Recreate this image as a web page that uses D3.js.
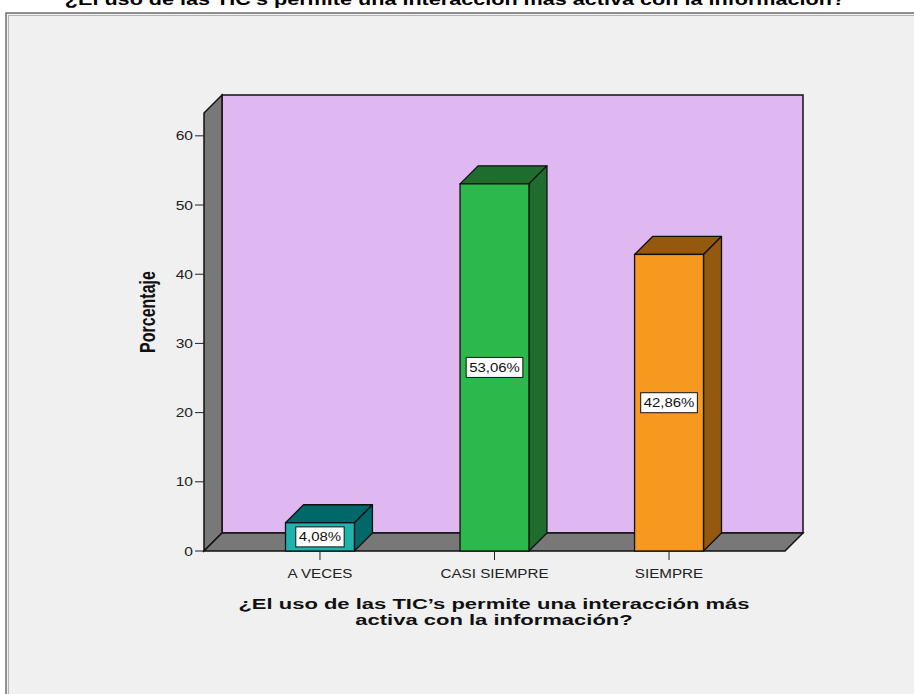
<!DOCTYPE html>
<html>
<head>
<meta charset="utf-8">
<script src="https://cdn.jsdelivr.net/npm/d3@7"></script>
<style>
  html, body { margin: 0; padding: 0; background: #ffffff; }
  svg { display: block; }
  text { font-family: Arial, "Liberation Sans", sans-serif; }
</style>
</head>
<body>
<script>
// Survey answers and their share of respondents (%)
const categories = ["A VECES", "CASI SIEMPRE", "SIEMPRE"];
const percentages = [4.08, 53.06, 42.86];
const valueLabels = ["4,08%", "53,06%", "42,86%"];
const yTicks = [0, 10, 20, 30, 40, 50, 60];
const frontColors = ["#1fb3ad", "#2db84b", "#f7991f"];
const sideColors = ["#006868", "#1f6d2e", "#94580f"];
const chartTitle = "¿El uso de las TIC’s permite una interacción más activa con la información?";
const xTitleLines = ["¿El uso de las TIC’s permite una interacción más", "activa con la información?"];
const yTitle = "Porcentaje";

const W = 914, H = 694;
const depth = 18; // 3D offset of the back wall
const plot = { left: 204, right: 785, bottom: 551, top: 113 };

const svg = d3.select("body").append("svg").attr("width", W).attr("height", H);

// text with the wide glyph look of the chart: placed at (x, y), stretched horizontally by sx
function wideText(parent, x, y, sx, str, extra) {
  const t = parent.append("text")
    .attr("transform", `translate(${x},${y}) scale(${sx},1)` + (extra || ""))
    .text(str);
  return t;
}

// outer panel
svg.append("rect").attr("x", 0).attr("y", 0).attr("width", W).attr("height", H).attr("fill", "#ffffff");
svg.append("rect").attr("x", 6).attr("y", 13).attr("width", W + 20).attr("height", H + 20)
  .attr("fill", "#f0f0f0").attr("stroke", "#6e6e6e").attr("stroke-width", 1.5);
svg.append("rect").attr("x", 8.5).attr("y", 15.5).attr("width", W + 20).attr("height", H + 20)
  .attr("fill", "none").attr("stroke", "#b4b4b4").attr("stroke-width", 1);

// chart title (sits above the panel, partly outside the view)
wideText(svg, 455, 5, 1.35, chartTitle)
  .attr("text-anchor", "middle").attr("font-size", 16).attr("font-weight", "bold").attr("fill", "#000");

const y = d3.scaleLinear().domain([0, 63.3]).range([plot.bottom, plot.top]);
const x = d3.scaleBand().domain(categories).range([plot.left, plot.right])
  .paddingInner(0.605).paddingOuter(0.467);

const g = svg.append("g");
const line = d3.line();

// back wall
g.append("path")
  .attr("d", line([[plot.left + depth, plot.top - depth], [plot.right + depth, plot.top - depth],
                   [plot.right + depth, plot.bottom - depth], [plot.left + depth, plot.bottom - depth]]) + "Z")
  .attr("fill", "#dfb8f2").attr("stroke", "#111").attr("stroke-width", 1.5);
// left wall
g.append("path")
  .attr("d", line([[plot.left, plot.bottom], [plot.left, plot.top], [plot.left + depth, plot.top - depth],
                   [plot.left + depth, plot.bottom - depth]]) + "Z")
  .attr("fill", "#787878").attr("stroke", "#111").attr("stroke-width", 1.5);
// floor
g.append("path")
  .attr("d", line([[plot.left, plot.bottom], [plot.right, plot.bottom], [plot.right + depth, plot.bottom - depth],
                   [plot.left + depth, plot.bottom - depth]]) + "Z")
  .attr("fill", "#787878").attr("stroke", "#111").attr("stroke-width", 1.5);

// y axis ticks and labels
const yAxis = svg.append("g");
yTicks.forEach(t => {
  yAxis.append("line").attr("x1", plot.left - 9).attr("x2", plot.left)
    .attr("y1", y(t)).attr("y2", y(t)).attr("stroke", "#222").attr("stroke-width", 1);
  wideText(yAxis, plot.left - 11, y(t) + 4.5, 1.2, t)
    .attr("text-anchor", "end").attr("font-size", 13).attr("fill", "#222");
});

// 3D bars
const bars = svg.append("g");
categories.forEach((c, i) => {
  const x0 = x(c), x1 = x(c) + x.bandwidth();
  const yt = y(percentages[i]), yb = y(0);
  // top face
  bars.append("path")
    .attr("d", line([[x0, yt], [x1, yt], [x1 + depth, yt - depth], [x0 + depth, yt - depth]]) + "Z")
    .attr("fill", sideColors[i]).attr("stroke", "#111").attr("stroke-width", 1.3).attr("stroke-linejoin", "round");
  // side face
  bars.append("path")
    .attr("d", line([[x1, yt], [x1 + depth, yt - depth], [x1 + depth, yb - depth], [x1, yb]]) + "Z")
    .attr("fill", sideColors[i]).attr("stroke", "#111").attr("stroke-width", 1.3).attr("stroke-linejoin", "round");
  // front face
  bars.append("rect").attr("x", x0).attr("y", yt).attr("width", x1 - x0).attr("height", yb - yt)
    .attr("fill", frontColors[i]).attr("stroke", "#111").attr("stroke-width", 1.3);
});

// x axis ticks and category labels
categories.forEach(c => {
  const cx = x(c) + x.bandwidth() / 2;
  svg.append("line").attr("x1", cx).attr("x2", cx).attr("y1", plot.bottom).attr("y2", plot.bottom + 9)
    .attr("stroke", "#222").attr("stroke-width", 1);
  wideText(svg, cx, plot.bottom + 27, 1.17, c)
    .attr("text-anchor", "middle").attr("font-size", 13).attr("fill", "#222");
});

// value labels in boxes at mid-height of each bar
categories.forEach((c, i) => {
  const cx = x(c) + x.bandwidth() / 2;
  const cy = y(percentages[i] / 2);
  const lg = svg.append("g");
  const sx = 1.15;
  const t = wideText(lg, cx, cy + 4.6, sx, valueLabels[i])
    .attr("text-anchor", "middle").attr("font-size", 13).attr("fill", "#111");
  const bw = t.node().getBBox().width * sx;
  lg.insert("rect", "text").attr("x", cx - bw / 2 - 3).attr("y", cy - 10).attr("width", bw + 6).attr("height", 20)
    .attr("fill", "#ffffff").attr("stroke", "#111").attr("stroke-width", 1);
});

// axis titles
wideText(svg, 155, (plot.top + plot.bottom) / 2 - 20, 1.35, yTitle, " rotate(-90)")
  .attr("text-anchor", "middle").attr("font-size", 16).attr("font-weight", "bold").attr("fill", "#111");

xTitleLines.forEach((l, i) => {
  wideText(svg, 494, 609 + i * 16, 1.42, l)
    .attr("text-anchor", "middle").attr("font-size", 15.5).attr("font-weight", "bold").attr("fill", "#111");
});
</script>
</body>
</html>
